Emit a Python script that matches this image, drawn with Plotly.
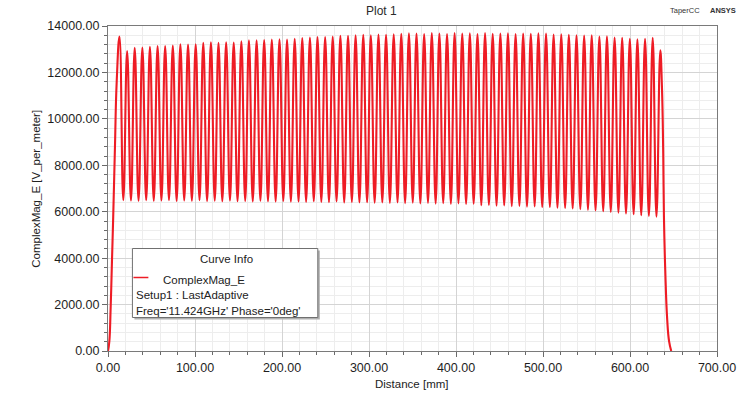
import plotly.graph_objects as go

# Field magnitude along the structure: peak (iris) and trough positions/values
peak_mm = [13.2, 22.0, 30.7, 39.5, 48.2, 57.0, 65.7, 74.5, 83.2, 92.0,
           100.8, 109.5, 118.3, 127.0, 135.8, 144.5, 153.3, 162.0, 170.8, 179.5,
           188.3, 197.1, 205.8, 214.6, 223.3, 232.1, 240.8, 249.6, 258.3, 267.1,
           275.9, 284.6, 293.4, 302.1, 310.9, 319.6, 328.4, 337.1, 345.9, 354.6,
           363.4, 372.2, 380.9, 389.7, 398.4, 407.2, 415.9, 424.7, 433.4, 442.2,
           451.0, 459.7, 468.5, 477.2, 486.0, 494.7, 503.5, 512.2, 521.0, 529.7,
           538.5, 547.3, 556.0, 564.8, 573.5, 582.3, 591.0, 599.8, 608.5, 617.3,
           626.1, 634.8]
peak_val = [13550, 12920, 13060, 13070, 13100, 13140, 13140, 13160, 13210, 13200,
            13210, 13280, 13300, 13280, 13300, 13290, 13340, 13380,
            13380, 13390, 13420, 13430, 13420, 13450, 13480, 13500, 13520, 13520,
            13550, 13580, 13580, 13600, 13620, 13600, 13630, 13620, 13640,
            13660, 13690, 13670, 13650, 13700, 13680, 13650, 13700, 13680, 13690,
            13650, 13700, 13660, 13680, 13690, 13650, 13680, 13660, 13690,
            13670, 13630, 13640, 13620, 13600, 13590, 13600, 13550, 13560, 13500,
            13490, 13450, 13430, 13450, 13490, 12950]
trough_mm = [17.6, 26.4, 35.1, 43.9, 52.6, 61.4, 70.1, 78.9, 87.6, 96.4,
             105.2, 113.9, 122.7, 131.4, 140.2, 148.9, 157.7, 166.4, 175.2, 183.9,
             192.7, 201.5, 210.2, 219.0, 227.7, 236.5, 245.2, 254.0, 262.7, 271.5,
             280.3, 289.0, 297.8, 306.5, 315.3, 324.0, 332.8, 341.5, 350.3, 359.0,
             367.8, 376.6, 385.3, 394.1, 402.8, 411.6, 420.3, 429.1, 437.8, 446.6,
             455.4, 464.1, 472.9, 481.6, 490.4, 499.1, 507.9, 516.6, 525.4, 534.1,
             542.9, 551.7, 560.4, 569.2, 577.9, 586.7, 595.4, 604.2, 612.9, 621.7,
             630.4]
trough_val = [6500, 6480, 6470, 6500, 6470, 6480, 6500, 6460, 6480, 6470, 6500,
              6460, 6470, 6450, 6480, 6450, 6460, 6440, 6470, 6450, 6440, 6460, 6430,
              6440, 6420, 6450, 6420, 6410, 6440, 6400, 6420, 6400, 6410, 6390, 6400,
              6380, 6400, 6370, 6390, 6360, 6380, 6350, 6370, 6340, 6360, 6330, 6340,
              6280, 6290, 6260, 6270, 6240, 6250, 6220, 6230, 6200, 6200, 6170, 6160,
              6140, 6110, 6080, 6050, 6020, 5990, 5960, 5920, 5890, 5850, 5820, 5790]
# Field build-up at the input and decay at the output end
rise_mm = [0.0, 1.5, 3.0, 4.5, 6.0, 8.0, 10.0]
rise_val = [0, 400, 1800, 3800, 5800, 8800, 11600]
fall_mm = [636.7, 638.2, 639.0, 640.5, 642.8, 645.0, 647.4]
fall_val = [11400, 8500, 5800, 3500, 1330, 400, 0]

x_ticks = [0, 100, 200, 300, 400, 500, 600, 700]
y_ticks = [0, 2000, 4000, 6000, 8000, 10000, 12000, 14000]

# Interleave peaks and troughs into one trace
xs, ys = list(rise_mm), list(rise_val)
for i in range(len(peak_mm)):
    xs.append(peak_mm[i]); ys.append(peak_val[i])
    if i < len(trough_mm):
        xs.append(trough_mm[i]); ys.append(trough_val[i])
xs += fall_mm
ys += fall_val

W, H = 748, 394
L, R, T, B = 108, 29, 26, 43
PW, PH = W - L - R, H - T - B
FONT = "Liberation Sans, Arial, sans-serif"
RED = "#ee1c25"


def fx(p):
    return (p - L) / PW


def fy(p):
    return (H - B - p) / PH


fig = go.Figure()
fig.add_trace(go.Scatter(
    x=xs, y=ys, mode="lines", name="ComplexMag_E",
    line=dict(color=RED, width=2.1, shape="spline", smoothing=1.3),
    showlegend=False,
))

axis_common = dict(
    showline=True, linecolor="#7a7a7a", linewidth=1, mirror=True,
    ticks="outside", ticklen=5, tickcolor="#6a6a6a",
    showgrid=True, gridcolor="#d4d4d4", gridwidth=1,
    zeroline=False, tickformat=".2f",
    tickfont=dict(family=FONT, size=12.5, color="#1e1e1e"),
)

fig.update_xaxes(
    range=[0, 700], tickvals=x_ticks,
    minor=dict(dtick=20, ticks="outside", ticklen=3, tickcolor="#6a6a6a",
               showgrid=True, gridcolor="#ededed"),
    **axis_common,
)
fig.update_yaxes(
    range=[0, 14000], tickvals=y_ticks,
    minor=dict(dtick=400, ticks="outside", ticklen=3, tickcolor="#6a6a6a",
               showgrid=True, gridcolor="#ededed"),
    **axis_common,
)

annotations = [
    dict(text="Plot 1", x=fx(382), y=fy(11.5), size=12, color="#2a2a2a"),
    dict(text="TaperCC", x=fx(687), y=fy(11), size=7.5, color="#333333"),
    dict(text="<b>ANSYS</b>", x=fx(725), y=fy(10.5), size=7.5, color="#333333"),
    dict(text="Distance [mm]", x=fx(413), y=fy(384), size=11.5, color="#222222"),
    dict(text="Curve Info", x=fx(227), y=fy(259), size=11.5, color="#222222"),
]
ann = []
for a in annotations:
    ann.append(dict(text=a["text"], x=a["x"], y=a["y"], xref="paper", yref="paper",
                    xanchor="center", yanchor="middle", showarrow=False,
                    font=dict(family=FONT, size=a["size"], color=a["color"])))
ann.append(dict(text="ComplexMag_E [V_per_meter]", x=fx(35), y=fy(188.5),
                xref="paper", yref="paper", textangle=-90, showarrow=False,
                xanchor="center", yanchor="middle",
                font=dict(family=FONT, size=11.5, color="#222222")))
for text, xp, yp in [("ComplexMag_E", 161.5, 279.5),
                     ("Setup1 : LastAdaptive", 134.5, 295),
                     ("Freq='11.424GHz' Phase='0deg'", 134.5, 310.5)]:
    ann.append(dict(text=text, x=fx(xp), y=fy(yp), xref="paper", yref="paper",
                    xanchor="left", yanchor="middle", showarrow=False,
                    font=dict(family=FONT, size=11.5, color="#222222")))

shapes = [
    # legend box shadow, box and line sample
    dict(type="rect", xref="paper", yref="paper",
         x0=fx(134.5), x1=fx(320.5), y0=fy(250.5), y1=fy(319.5),
         fillcolor="#b0b0b0", line=dict(width=0), layer="above"),
    dict(type="rect", xref="paper", yref="paper",
         x0=fx(132.5), x1=fx(318.5), y0=fy(248.5), y1=fy(317.5),
         fillcolor="white", line=dict(color="#707070", width=1), layer="above"),
    dict(type="line", xref="paper", yref="paper",
         x0=fx(133.5), x1=fx(148.5), y0=fy(277.5), y1=fy(277.5),
         line=dict(color=RED, width=1.5), layer="above"),
]

fig.update_layout(
    width=W, height=H, autosize=False,
    margin=dict(l=L, r=R, t=T, b=B, pad=0),
    paper_bgcolor="white", plot_bgcolor="white",
    annotations=ann, shapes=shapes, showlegend=False,
    font=dict(family=FONT),
)

fig.write_html("out.html")
